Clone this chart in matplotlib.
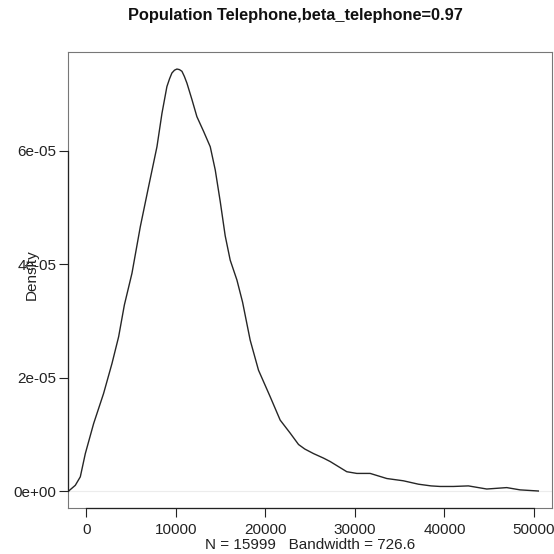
import numpy as np
import matplotlib
matplotlib.use("Agg")
import matplotlib.pyplot as plt
import matplotlib.transforms as mtrans

plt.rcParams['font.family'] = ['Liberation Sans', 'DejaVu Sans']

# density curve
xs = [-1970, -1230, -670, -110, 820, 1930, 2870, 3610, 4250, 5100, 6030, 6960,
      7890, 8450, 9000, 9300, 9560, 9850, 10120, 10400, 10680, 10950, 11240,
      11800, 12350, 13100, 13840, 14400, 14960, 15510, 16070, 16820, 17450,
      18300, 19230, 20540, 21650, 22770, 23700, 24400, 25370, 26490, 27230,
      29090, 30210, 31700, 33560, 35410, 37090, 38500, 39510, 40990, 42670,
      44720, 46950, 48440, 50480]
dens = [0.0, 0.1, 0.25, 0.66, 1.19, 1.72, 2.25, 2.72, 3.28, 3.84, 4.66, 5.37,
        6.07, 6.66, 7.13, 7.27, 7.37, 7.42, 7.44, 7.43, 7.40, 7.31, 7.19,
        6.90, 6.60, 6.34, 6.07, 5.66, 5.10, 4.50, 4.07, 3.72, 3.33,
        2.66, 2.13, 1.66, 1.25, 1.02, 0.82, 0.74, 0.66, 0.58, 0.52,
        0.34, 0.31, 0.31, 0.22, 0.18, 0.12, 0.09, 0.08, 0.08, 0.09,
        0.035, 0.06, 0.02, 0.0]
dens = [d * 1e-5 for d in dens]

xticks = [0, 10000, 20000, 30000, 40000, 50000]
yticks = [0, 2e-5, 4e-5, 6e-5]
ytick_labels = ["0e+00", "2e-05", "4e-05", "6e-05"]

title = "Population Telephone,beta_telephone=0.97"
xlabel = "N = 15999   Bandwidth = 726.6"

fig = plt.figure(figsize=(5.54, 5.54), dpi=100)
ax = fig.add_axes([0.1233, 0.0830, 0.9958 - 0.1233, 0.9061 - 0.0830])

ax.axhline(0, color="#ececec", lw=0.8, zorder=1)
ax.plot(xs, dens, color="#262626", lw=1.0, zorder=3)

ax.set_xlim(-2010, 51970)
ax.set_ylim(-0.30e-5, 7.74e-5)

ax.set_xticks(xticks)
ax.set_xticklabels([str(t) for t in xticks])
ax.set_yticks(yticks)
ax.set_yticklabels(ytick_labels)
ax.tick_params(axis="both", direction="out", length=6.5, width=0.8,
               colors="#222222", labelsize=11)
ax.tick_params(axis="x", pad=4.5)
ax.tick_params(axis="y", pad=2.2)

for s in ax.spines.values():
    s.set_color("#777777")
    s.set_linewidth(0.8)

# darker axis lines between first and last tick, like R's axis()
tl = mtrans.blended_transform_factory(ax.transAxes, ax.transData)
ax.plot([0, 0], [yticks[0], yticks[-1]], transform=tl, color="#222222",
        lw=0.9, clip_on=False, zorder=4)
tb = mtrans.blended_transform_factory(ax.transData, ax.transAxes)
ax.plot([xticks[0], xticks[-1]], [0, 0], transform=tb, color="#222222",
        lw=0.9, clip_on=False, zorder=4)

fig.text(0.533, 0.972, title, ha="center", va="center", fontsize=11.8,
         fontweight="bold", color="#111111")
fig.text(0.5596, 0.0162, xlabel, ha="center", va="center", fontsize=11,
         color="#222222")
fig.text(0.058, 0.504, "Density", ha="center", va="center", rotation=90,
         fontsize=11, color="#222222")

fig.savefig("out.png", dpi=100)
